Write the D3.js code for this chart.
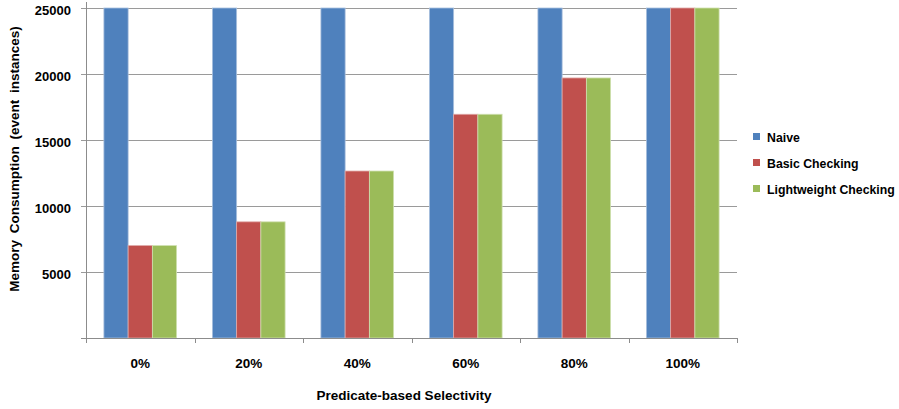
<!DOCTYPE html>
<html><head><meta charset="utf-8">
<script src="https://cdn.jsdelivr.net/npm/d3@7"></script>
<style>body{margin:0;background:#fff}svg{display:block}text{font-family:"Liberation Sans",Arial,sans-serif;font-weight:bold;fill:#000}</style>
</head><body><svg id="c" width="899" height="409"></svg>
<script>
const categories = ["0%","20%","40%","60%","80%","100%"];
const seriesNames = ["Naive","Basic Checking","Lightweight Checking"];
const naive = [25000,25000,25000,25000,25000,25000];
const basic = [7000,8800,12650,16950,19700,25000];
const lightweight = [7000,8800,12650,16950,19700,25000];
const yTicks = [5000,10000,15000,20000,25000];
const colors = ["#4f81bd","#c0504d","#9bbb59"];
const strokes = ["#a9c0de","#dfa9a7","#cfe0b0"];

const svg = d3.select("#c");
const m = {l:86, r:737, t:8, b:338};
const x = d3.scaleBand().domain(categories).range([m.l, m.r]).paddingInner(0.33).paddingOuter(0.165);
const xs = d3.scaleBand().domain(seriesNames).range([0, x.bandwidth()]);
const y = d3.scaleLinear().domain([0,25000]).range([m.b, m.t]);

// gridlines
svg.append("g").selectAll("line").data(yTicks).join("line")
  .attr("x1", m.l-5).attr("x2", m.r).attr("y1", d=>y(d)+0.5).attr("y2", d=>y(d)+0.5)
  .attr("stroke", "#9a9a9a").attr("stroke-width", 1);

// bars
const series = [naive, basic, lightweight];
series.forEach((vals, si) => {
  svg.append("g").selectAll("rect").data(categories).join("rect")
    .attr("x", (c)=>x(c)+xs(seriesNames[si]))
    .attr("y", (c,i)=>y(vals[i]))
    .attr("width", xs.bandwidth())
    .attr("height", (c,i)=>m.b - y(vals[i]))
    .attr("fill", colors[si])
    .attr("stroke", strokes[si]).attr("stroke-width", 0.8);
});

// y axis line
svg.append("line").attr("x1", m.l+0.5).attr("x2", m.l+0.5).attr("y1", 2).attr("y2", m.b)
  .attr("stroke", "#8c8c8c");
// x axis line
svg.append("line").attr("x1", m.l-5).attr("x2", m.r).attr("y1", m.b+0.5).attr("y2", m.b+0.5)
  .attr("stroke", "#8c8c8c");
// x ticks at band boundaries
const bounds = categories.map(c => x(c) - x.step()*x.paddingInner()/2);
bounds.push(m.r);
svg.append("g").selectAll("line").data(bounds).join("line")
  .attr("x1", d=>Math.round(d)+0.5).attr("x2", d=>Math.round(d)+0.5)
  .attr("y1", m.b).attr("y2", m.b+5).attr("stroke", "#8c8c8c");

// y tick labels
svg.append("g").selectAll("text").data(yTicks).join("text")
  .attr("x", 71).attr("y", d=>y(d)+7).attr("text-anchor","end")
  .attr("font-size", "13px").text(d=>d);

// x labels
svg.append("g").selectAll("text").data(categories).join("text")
  .attr("x", c=>x(c)+x.bandwidth()/2).attr("y", 368).attr("text-anchor","middle")
  .attr("font-size","13.5px").text(d=>d);

// axis titles
svg.append("text").attr("x", 404).attr("y", 400).attr("text-anchor","middle")
  .attr("font-size","13.5px").text("Predicate-based Selectivity");
svg.append("text").attr("transform","translate(19,159) rotate(-90)").attr("text-anchor","middle")
  .attr("font-size","13.5px").attr("word-spacing","3px").text("Memory Consumption (event instances)");

// legend
const lg = svg.append("g");
seriesNames.forEach((n,i)=>{
  const yy = 137 + i*26;
  lg.append("rect").attr("x",753).attr("y",yy-4).attr("width",7).attr("height",7).attr("fill",colors[i]);
  lg.append("text").attr("x",767).attr("y",yy+4.5).attr("font-size","12.3px").text(n);
});
</script></body></html>
